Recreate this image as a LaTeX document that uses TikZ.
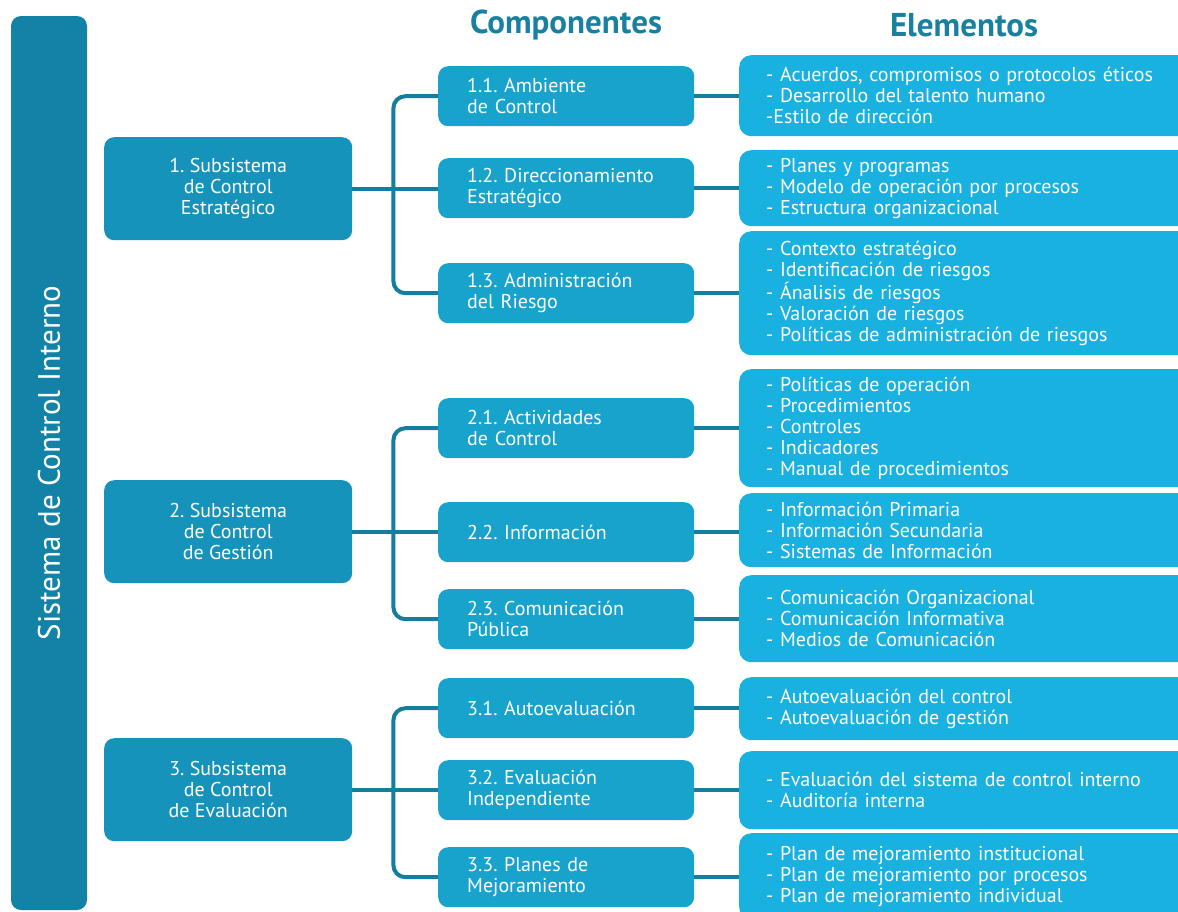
\documentclass[tikz,border=0pt]{standalone}
\usepackage{fontspec}
\setmainfont{PT Sans}
\usetikzlibrary{calc}
\definecolor{barblue}{RGB}{18,131,166}
\definecolor{subblue}{RGB}{21,147,186}
\definecolor{compblue}{RGB}{23,163,203}
\definecolor{elemblue}{RGB}{25,177,223}
\definecolor{linkcol}{RGB}{21,126,159}
\definecolor{headcol}{RGB}{26,128,160}
\frenchspacing
\tikzset{
  box/.style={rounded corners=10pt, text=white, inner ysep=0pt, anchor=north west,
    font=\fontsize{20}{21}\selectfont},
  sysbar/.style={box, fill=barblue, anchor=center, rotate=90, minimum width=894pt,
    minimum height=76pt, font=\fontsize{31}{34}\selectfont},
  subbox/.style={box, fill=subblue, minimum width=248pt, minimum height=103pt, align=center},
  compbox/.style={box, fill=compblue, minimum width=256pt, minimum height=60pt,
    inner xsep=29pt, text width=198pt, align=left},
  elembox/.style={box, fill=elemblue, rounded corners=12pt, minimum width=470pt,
    inner xsep=27pt, text width=416pt, align=left},
  header/.style={text=headcol, font=\fontsize{33}{36}\selectfont\bfseries},
  link/.style={draw=linkcol, line width=4pt}
}
\begin{document}
\begin{tikzpicture}[x=1pt,y=-1pt]
  %%%%% START %%%%%
  \useasboundingbox (0,0) rectangle (1178,911);
  \clip (0,0) rectangle (1178,911);

  \node[sysbar] (sci) at (49,463) {Sistema de Control Interno};

  \node[header] (hcomp) at (566,25) {Componentes};
  \node[header] (helem) at (964,25) {Elementos};

  % subsistemas
  \node[subbox] (s1) at (104,137) {1. Subsistema\\de Control\\Estratégico};
  \node[subbox] (s2) at (104,480) {2. Subsistema\\de Control\\de Gestión};
  \node[subbox] (s3) at (104,738) {3. Subsistema\\de Control\\de Evaluación};

  % componentes
  \node[compbox] (c11) at (438,66) {1.1. Ambiente\\de Control};
  \node[compbox] (c12) at (438,158) {1.2. Direccionamiento\\Estratégico};
  \node[compbox] (c13) at (438,263) {1.3. Administración\\del Riesgo};
  \node[compbox] (c21) at (438,398) {2.1. Actividades\\de Control};
  \node[compbox] (c22) at (438,502) {2.2. Información};
  \node[compbox] (c23) at (438,589) {2.3. Comunicación\\Pública};
  \node[compbox] (c31) at (438,678) {3.1. Autoevaluación};
  \node[compbox] (c32) at (438,760) {3.2. Evaluación\\Independiente};
  \node[compbox] (c33) at (438,847) {3.3. Planes de\\Mejoramiento};

  % elementos
  \node[elembox, minimum height=81pt] (e11) at (739,55)
    {- Acuerdos, compromisos o protocolos éticos\\- Desarrollo del talento humano\\-Estilo de dirección};
  \node[elembox, minimum height=76pt] (e12) at (739,150)
    {- Planes y programas\\- Modelo de operación por procesos\\- Estructura organizacional};
  \node[elembox, minimum height=124pt] (e13) at (739,231)
    {- Contexto estratégico\\- Identificación de riesgos\\- Ánalisis de riesgos\\- Valoración de riesgos\\- Políticas de administración de riesgos};
  \node[elembox, minimum height=118pt] (e21) at (739,369)
    {- Políticas de operación\\- Procedimientos\\- Controles\\- Indicadores\\- Manual de procedimientos};
  \node[elembox, minimum height=74pt] (e22) at (739,493)
    {- Información Primaria\\- Información Secundaria\\- Sistemas de Información};
  \node[elembox, minimum height=87pt] (e23) at (739,575)
    {- Comunicación Organizacional\\- Comunicación Informativa\\- Medios de Comunicación};
  \node[elembox, minimum height=63pt] (e31) at (739,677)
    {- Autoevaluación del control\\- Autoevaluación de gestión};
  \node[elembox, minimum height=78pt] (e32) at (739,751)
    {- Evaluación del sistema de control interno\\- Auditoría interna};
  \node[elembox, minimum height=86pt] (e33) at (739,833)
    {- Plan de mejoramiento institucional\\- Plan de mejoramiento por procesos\\- Plan de mejoramiento individual};

  % ramas subsistema -> componentes
  \coordinate (j1) at ($(s1.east)+(41,0)$);
  \coordinate (j2) at ($(s2.east)+(41,0)$);
  \coordinate (j3) at ($(s3.east)+(41,0)$);
  \draw[link] (s1.east) -- (s1.east -| c12.west);
  \draw[link, rounded corners=12pt] (c11.west) -| (j1) |- (c13.west);
  \draw[link] (s2.east) -- (s2.east -| c22.west);
  \draw[link, rounded corners=12pt] (c21.west) -| (j2) |- (c23.west);
  \draw[link] (s3.east) -- (j3);
  \draw[link] (j3) -- (j3 -| c32.west);
  \draw[link, rounded corners=12pt] (c31.west) -| (j3) |- (c33.west);

  % componentes -> elementos
  \foreach \c in {11,12,13,21,22,23,31,32,33}
    \draw[link] (c\c.east) -- (c\c.east -| e\c.west);
  %%%%% END %%%%%
\end{tikzpicture}
\end{document}
